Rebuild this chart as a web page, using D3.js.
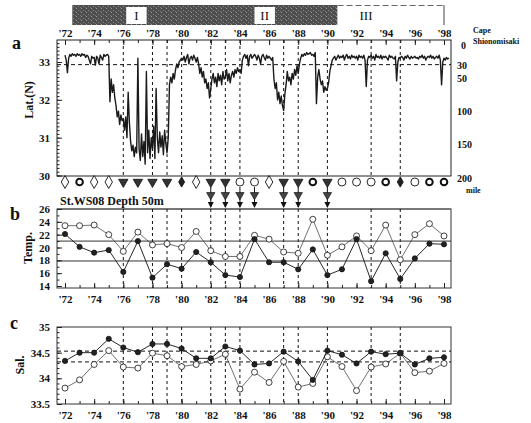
<!DOCTYPE html>
<html>
<head>
<meta charset="utf-8">
<script src="https://cdn.jsdelivr.net/npm/d3@7"></script>
<style>
  body { margin: 0; background: #fff; }
  text { font-family: "Liberation Serif", "Times New Roman", serif; font-weight: bold; fill: #111; }
</style>
</head>
<body>
<div id="chart"></div>
<script>
// ---- data ----
var years = d3.range(1972, 1999);
var labelYears = d3.range(1972, 1999, 2);

// Kuroshio path latitude, monthly from Jan 1972
var latMonthly = [
  33.18, 33.05, 32.72, 33.10, 33.20, 33.15, 33.22, 33.18, 33.20, 33.15, 33.22, 33.18, // 72
  33.20, 33.15, 33.22, 33.18, 33.20, 33.12, 33.18, 33.15, 33.05, 32.95, 33.15, 33.10, // 73
  33.12, 32.92, 33.15, 33.10, 32.95, 33.18, 33.12, 33.05, 33.20, 33.15, 33.18, 33.20, // 74
  33.15, 31.95, 32.55, 32.20, 32.40, 32.05, 31.85, 31.55, 31.70, 31.35, 31.60, 31.45, // 75
  31.50, 31.20, 31.55, 31.00, 32.20, 31.40, 30.90, 30.65, 30.80, 30.50, 30.75, 30.60, // 76
  33.10, 30.70, 30.40, 31.10, 30.50, 30.90, 30.30, 32.75, 30.60, 31.20, 30.45, 31.00, // 77
  30.70, 31.30, 30.45, 32.30, 31.00, 30.60, 31.15, 30.75, 31.05, 30.55, 31.20, 30.85, // 78
  30.60, 31.00, 32.40, 32.60, 32.45, 32.70, 32.55, 32.80, 32.95, 32.85, 33.00, 33.05, // 79
  33.10, 33.05, 33.15, 33.00, 33.12, 33.20, 32.95, 33.10, 33.15, 33.05, 33.18, 33.10, // 80
  33.00, 33.12, 32.95, 32.70, 32.85, 32.60, 32.75, 32.45, 32.55, 32.30, 32.45, 32.05, // 81
  32.30, 32.55, 32.70, 32.45, 32.60, 32.35, 32.70, 32.50, 32.65, 32.40, 32.75, 32.55, // 82
  32.60, 32.80, 32.50, 32.70, 32.45, 32.65, 32.75, 32.60, 32.80, 32.70, 32.85, 32.75, // 83
  32.80, 32.70, 33.05, 33.15, 33.20, 33.10, 33.18, 32.90, 33.15, 33.20, 33.10, 33.15, // 84
  33.20, 33.15, 33.05, 33.18, 33.10, 32.95, 33.15, 33.20, 33.12, 33.05, 33.18, 33.10, // 85
  33.15, 33.10, 33.05, 33.12, 32.55, 32.30, 32.45, 32.00, 32.20, 31.90, 32.10, 31.85, // 86
  31.72, 32.15, 32.40, 32.75, 32.50, 32.60, 32.40, 32.70, 32.55, 32.80, 32.65, 32.90, // 87
  32.70, 32.95, 33.10, 33.20, 33.15, 33.22, 33.18, 33.25, 33.20, 33.22, 33.25, 33.18, // 88
  33.20, 33.15, 33.25, 31.90, 32.60, 32.80, 32.55, 32.40, 32.50, 32.20, 32.35, 32.25, // 89
  32.30, 32.45, 32.75, 32.90, 33.05, 33.10, 33.15, 33.05, 33.12, 33.18, 33.10, 33.15, // 90
  33.12, 33.18, 33.05, 33.15, 33.20, 33.10, 33.15, 33.08, 33.18, 33.12, 33.15, 33.10, // 91
  33.15, 33.05, 33.18, 33.12, 33.15, 33.10, 33.18, 33.05, 32.35, 33.05, 33.15, 33.12, // 92
  33.18, 33.10, 33.15, 33.05, 33.20, 33.12, 33.15, 33.10, 33.18, 33.08, 33.15, 33.12, // 93
  33.15, 33.10, 33.05, 33.18, 33.12, 33.15, 33.10, 33.08, 33.15, 32.50, 33.00, 33.12, // 94
  33.10, 33.15, 33.12, 33.05, 33.15, 33.10, 33.18, 33.12, 33.08, 33.15, 33.10, 33.12, // 95
  33.15, 33.10, 33.12, 33.08, 33.15, 33.12, 33.18, 33.10, 33.15, 33.05, 33.12, 33.15, // 96
  33.12, 33.18, 33.10, 33.15, 33.08, 33.12, 33.15, 33.10, 33.18, 33.05, 32.40, 33.00, // 97
  33.10, 33.05, 33.12, 33.08, 33.10                                                   // 98
];
var latRef = 32.93;
var mileTicks = [0, 30, 50, 100, 150, 200];

// path type per year
var pathTypes = ["diamond", "ring", "diamond", "diamond", "tri", "tri", "tri", "tri", "fdiamond",
  "diamond", "tri", "tri", "circle", "circle", "diamond", "tri", "tri", "ring", "tri",
  "circle", "circle", "circle", "ring", "fdiamond", "circle", "ring", "ring"];

var eventYears = [1976, 1978, 1979, 1980, 1982, 1983, 1984, 1987, 1988, 1990, 1993, 1995];
var arrowYears = [1982, 1983, 1984, 1985, 1987, 1988, 1990];

// St.WS08, 50 m
var tempOpen = [23.4, 23.4, 23.5, 22.0, 19.4, 22.4, 20.4, 20.6, 20.0, 22.5, 19.5, 18.6, 18.6, 21.9,
  21.3, 19.3, 19.1, 24.4, 18.8, 20.1, 21.8, 19.5, 23.5, 18.1, 22.0, 23.7, 21.8];
var tempFilled = [22.1, 20.1, 19.2, 19.6, 16.2, 21.0, 15.3, 17.4, 16.7, 19.3, 17.7, 15.7, 15.4, 21.3,
  17.7, 17.7, 16.6, 19.7, 15.7, 16.6, 21.3, 14.75, 19.1, 15.1, 18.3, 20.6, 20.5];
var tempRefs = [21.0, 17.9];

var salFilled = [34.34, 34.50, 34.50, 34.77, 34.60, 34.51, 34.67, 34.67, 34.58, 34.39, 34.39, 34.62, 34.54,
  34.27, 34.29, 34.52, 34.33, 33.97, 34.54, 34.46, 34.29, 34.52, 34.47, 34.49, 34.27, 34.39, 34.41];
var salOpen = [33.81, 33.97, 34.27, 34.54, 34.22, 34.20, 34.49, 34.44, 34.23, 34.27, 34.34, 34.47, 33.79,
  34.12, 33.92, 34.33, 33.83, 33.90, 34.42, 34.23, 33.76, 34.22, 34.28, 34.49, 34.11, 34.14, 34.29];
var salRefs = [34.53, 34.32];

// top bar: path period spans
var barSpans = [[1972.5, 1990.7, "dark"], [1990.7, 1998.0, "light"]];
var periodBoxes = [["I", 1976.2, 1977.6], ["II", 1985.0, 1986.4], ["III", 1992.0, 1993.3]];

// ---- chart ----
var width = 531, height = 423;
var left = 57, right = 451;

var svg = d3.select("#chart").append("svg")
  .attr("width", width).attr("height", height);

var defs = svg.append("defs");
var pat = defs.append("pattern").attr("id", "grain")
  .attr("width", 5).attr("height", 4).attr("patternUnits", "userSpaceOnUse");
pat.append("rect").attr("width", 5).attr("height", 4).attr("fill", "#4e4e4e");
pat.append("rect").attr("x", 1).attr("y", 0).attr("width", 1).attr("height", 1).attr("fill", "#9a9a9a");
pat.append("rect").attr("x", 3).attr("y", 2).attr("width", 1).attr("height", 1).attr("fill", "#8a8a8a");
pat.append("rect").attr("x", 0).attr("y", 3).attr("width", 1).attr("height", 1).attr("fill", "#777");

var x = d3.scaleLinear().domain([1972, 1998]).range([65, 444]);

function yearFmt(d) { return "'" + String(d).slice(2); }

// top bar
var bar = svg.append("g");
bar.selectAll("rect.span").data(barSpans).enter().append("rect")
  .attr("class", "span")
  .attr("x", function (d) { return x(d[0]); })
  .attr("width", function (d) { return x(d[1]) - x(d[0]); })
  .attr("y", 5).attr("height", 20)
  .attr("fill", function (d) { return d[2] === "dark" ? "url(#grain)" : "#fff"; });
bar.append("line").attr("x1", x(1990.7)).attr("x2", x(1998)).attr("y1", 5.5).attr("y2", 5.5)
  .attr("stroke", "#666").attr("stroke-dasharray", "6,3");
bar.append("line").attr("x1", x(1998)).attr("x2", x(1998)).attr("y1", 5).attr("y2", 25)
  .attr("stroke", "#444");
periodBoxes.forEach(function (p, i) {
  if (i < 2) {
    bar.append("rect").attr("x", x(p[1])).attr("width", x(p[2]) - x(p[1]))
      .attr("y", 7).attr("height", 17).attr("fill", "#fff");
  }
  bar.append("text").attr("x", (x(p[1]) + x(p[2])) / 2).attr("y", 20)
    .attr("text-anchor", "middle").style("font-size", "13px").style("font-weight", "normal")
    .text(p[0]);
});

function frame(top, bottom, stroke) {
  svg.append("rect").attr("x", left).attr("y", top)
    .attr("width", right - left).attr("height", bottom - top)
    .attr("fill", "none").attr("stroke", stroke || "#222").attr("stroke-width", 1);
}

function vDashes(top, bottom) {
  svg.append("g").selectAll("line").data(eventYears).enter().append("line")
    .attr("x1", function (d) { return x(d); }).attr("x2", function (d) { return x(d); })
    .attr("y1", top).attr("y2", bottom)
    .attr("stroke", "#111").attr("stroke-width", 1).attr("stroke-dasharray", "3,3");
}

function styleAxis(g, size) {
  g.select(".domain").remove();
  g.selectAll("line").attr("stroke", "#222");
  g.selectAll("text").style("font-size", size || "11px")
    .style("font-family", "'Liberation Serif', serif").style("font-weight", "bold");
}

// year axis, ticks pointing into the panel
function xAxes(pos, y0, pad) {
  var ax = pos === "top" ? d3.axisTop(x) : d3.axisBottom(x);
  var g = svg.append("g").attr("transform", "translate(0," + y0 + ")")
    .call(ax.tickValues(labelYears).tickFormat(yearFmt).tickSizeInner(-5).tickSizeOuter(0).tickPadding(pad));
  styleAxis(g);
  var ax2 = pos === "top" ? d3.axisTop(x) : d3.axisBottom(x);
  var g2 = svg.append("g").attr("transform", "translate(0," + y0 + ")")
    .call(ax2.tickValues(years).tickFormat("").tickSizeInner(-3).tickSizeOuter(0));
  styleAxis(g2);
}

function yAxis(scale, major, minor, fmt, pad) {
  var g = svg.append("g").attr("transform", "translate(" + left + ",0)")
    .call(d3.axisLeft(scale).tickValues(major).tickFormat(fmt).tickSizeInner(-5).tickSizeOuter(0).tickPadding(pad));
  styleAxis(g);
  var g2 = svg.append("g").attr("transform", "translate(" + left + ",0)")
    .call(d3.axisLeft(scale).tickValues(minor).tickFormat("").tickSizeInner(-2.5).tickSizeOuter(0));
  styleAxis(g2);
}

// ---- panel a ----
var aTop = 40, aBottom = 176;
var yLat = d3.scaleLinear().domain([30, 33]).range([175.5, 62]);
var yMile = d3.scaleLinear().domain([0, 200]).range([45, 178]);

frame(aTop, aBottom);
vDashes(aTop, aBottom);
svg.append("line").attr("x1", left).attr("x2", right)
  .attr("y1", yLat(latRef)).attr("y2", yLat(latRef))
  .attr("stroke", "#111").attr("stroke-dasharray", "4,3");

var latLine = d3.line()
  .x(function (d, i) { return x(1972 + i / 12); })
  .y(function (d) { return yLat(d); });
svg.append("path").datum(latMonthly).attr("d", latLine)
  .attr("fill", "none").attr("stroke", "#1a1a1a").attr("stroke-width", 1.4)
  .attr("stroke-linejoin", "round");

xAxes("top", aTop, 3);
yAxis(yLat, [30, 31, 32, 33], d3.range(30, 33.55, 0.1).map(function (v) { return +v.toFixed(1); }), d3.format("d"), 7);

var gm = svg.append("g").attr("transform", "translate(" + right + ",0)")
  .call(d3.axisRight(yMile).tickValues(mileTicks).tickSizeInner(0).tickSizeOuter(0).tickPadding(6));
styleAxis(gm, "10px");
gm.selectAll(".tick text").attr("x", function (d) { return d === 0 ? 10 : 6; });

svg.append("text").attr("x", 473).attr("y", 33).style("font-size", "8px").text("Cape");
svg.append("text").attr("x", 473).attr("y", 44).style("font-size", "8px").text("Shionomisaki");
svg.append("text").attr("x", 466).attr("y", 193).style("font-size", "8px").text("mile");

svg.append("text").attr("x", 12).attr("y", 49).style("font-size", "18px").text("a");
svg.append("text").attr("transform", "translate(33,100) rotate(-90)")
  .attr("text-anchor", "middle").style("font-size", "12px").text("Lat.(N)");

// path type symbols
var symG = svg.append("g");
years.forEach(function (yr, i) {
  var kind = pathTypes[i];
  var cx = x(yr), cy = 182;
  if (kind === "diamond" || kind === "fdiamond") {
    symG.append("path").attr("d", d3.symbol(d3.symbolDiamond, kind === "diamond" ? 48 : 30)())
      .attr("transform", "translate(" + cx + "," + cy + ")")
      .attr("fill", kind === "diamond" ? "#fff" : "#222").attr("stroke", "#111").attr("stroke-width", 0.9);
  } else if (kind === "tri") {
    symG.append("path").attr("d", d3.symbol(d3.symbolTriangle, 38)())
      .attr("transform", "translate(" + cx + "," + cy + ") rotate(180)")
      .attr("fill", "#333").attr("stroke", "#111").attr("stroke-width", 0.8);
  } else if (kind === "ring") {
    symG.append("circle").attr("cx", cx).attr("cy", cy).attr("r", 3.3)
      .attr("fill", "#fff").attr("stroke", "#111").attr("stroke-width", 2);
  } else {
    symG.append("circle").attr("cx", cx).attr("cy", cy).attr("r", 4)
      .attr("fill", "#fff").attr("stroke", "#111").attr("stroke-width", 0.9);
  }
});

// arrows
var arrG = svg.append("g");
arrowYears.forEach(function (yr) {
  var ax = x(yr);
  arrG.append("line").attr("x1", ax).attr("x2", ax).attr("y1", 187).attr("y2", 207)
    .attr("stroke", "#111").attr("stroke-width", 1);
  arrG.append("path").attr("d", d3.symbol(d3.symbolTriangle, 30)())
    .attr("transform", "translate(" + ax + ",195) rotate(180)")
    .attr("fill", "#444").attr("stroke", "#111").attr("stroke-width", 0.7);
  arrG.append("path").attr("d", "M" + (ax - 3) + ",202L" + (ax + 3) + ",202L" + ax + ",208Z")
    .attr("fill", "#111");
});

// ---- panel b ----
var bTop = 209, bBottom = 288;
var yTemp = d3.scaleLinear().domain([14, 26]).range([286, 209]);
frame(bTop, bBottom, "#333");
svg.append("line").attr("x1", left).attr("x2", right).attr("y1", bTop).attr("y2", bTop)
  .attr("stroke", "#777").attr("stroke-width", 2);
vDashes(bTop, bBottom);
svg.append("g").selectAll("line").data(tempRefs).enter().append("line")
  .attr("x1", left).attr("x2", right)
  .attr("y1", function (d) { return yTemp(d); }).attr("y2", function (d) { return yTemp(d); })
  .attr("stroke", "#333").attr("stroke-width", 1);

svg.append("text").attr("x", 60).attr("y", 205).style("font-size", "12px").text("St.WS08 Depth 50m");
svg.append("text").attr("x", 10).attr("y", 220).style("font-size", "18px").text("b");
svg.append("text").attr("transform", "translate(32,248) rotate(-90)")
  .attr("text-anchor", "middle").style("font-size", "12px").text("Temp.");

function series(vals, scale, filled) {
  var line = d3.line().x(function (d, i) { return x(years[i]); }).y(function (d) { return scale(d); });
  svg.append("path").datum(vals).attr("d", line).attr("fill", "none")
    .attr("stroke", filled ? "#111" : "#333").attr("stroke-width", filled ? 0.9 : 0.7);
  svg.append("g").selectAll("circle").data(vals).enter().append("circle")
    .attr("cx", function (d, i) { return x(years[i]); })
    .attr("cy", function (d) { return scale(d); })
    .attr("r", filled ? 2.6 : 3)
    .attr("fill", filled ? "#222" : "#fff")
    .attr("stroke", "#111").attr("stroke-width", 0.8);
}
series(tempOpen, yTemp, false);
series(tempFilled, yTemp, true);

yAxis(yTemp, [14, 16, 18, 20, 22, 24, 26], d3.range(14, 27, 1), d3.format("d"), 7);
xAxes("bottom", bBottom, 7);

// ---- panel c ----
var cTop = 327, cBottom = 404;
var ySal = d3.scaleLinear().domain([33.5, 35]).range([404, 327]);
frame(cTop, cBottom, "#333");
vDashes(cTop, cBottom);
svg.append("g").selectAll("line").data(salRefs).enter().append("line")
  .attr("x1", left).attr("x2", right)
  .attr("y1", function (d) { return ySal(d); }).attr("y2", function (d) { return ySal(d); })
  .attr("stroke", "#111").attr("stroke-width", 1).attr("stroke-dasharray", "4,3");

svg.append("text").attr("x", 10).attr("y", 329).style("font-size", "18px").text("c");
svg.append("text").attr("transform", "translate(24,365) rotate(-90)")
  .attr("text-anchor", "middle").style("font-size", "12px").text("Sal.");

series(salOpen, ySal, false);
series(salFilled, ySal, true);

yAxis(ySal, [33.5, 34, 34.5, 35], d3.range(33.5, 35.01, 0.1).map(function (v) { return +v.toFixed(1); }),
  function (d) { return String(d); }, 7);
xAxes("bottom", cBottom, 7);
</script>
</body>
</html>
